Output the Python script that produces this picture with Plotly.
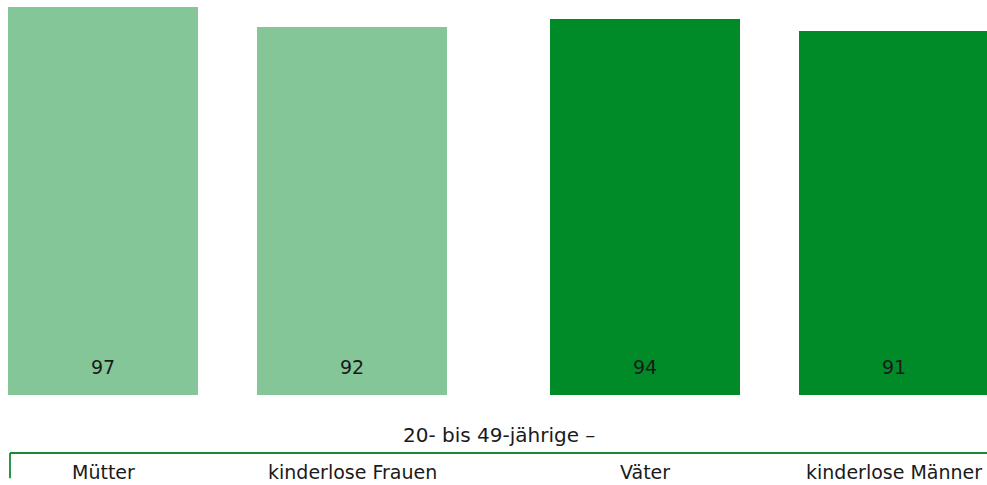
import plotly.graph_objects as go

categories = ["Mütter", "kinderlose Frauen", "Väter", "kinderlose Männer"]
values = [97, 92, 94, 91]
groups = [0, 0, 1, 1]
members = [0, 1, 0, 1]
group_title = "20- bis 49-jährige –"

light = "#84C697"
dark = "#008A28"
colors = [light if g == 0 else dark for g in groups]

step = 249
gap = 542
start = 103
xpos = [start + g * gap + m * step for g, m in zip(groups, members)]

font = dict(family="DejaVu Sans, Arial", size=19, color="#1a1a1a")

fig = go.Figure()
fig.add_trace(go.Bar(
    x=xpos, y=values, width=190, marker=dict(color=colors, line=dict(width=0)),
    hoverinfo="skip", showlegend=False,
))

annotations = []
for x, v in zip(xpos, values):
    annotations.append(dict(x=x, y=0, xref="x", yref="y", text=str(v), showarrow=False,
                            yanchor="bottom", yshift=15, font=font))
for x, c in zip(xpos, categories):
    annotations.append(dict(x=x, y=0.027, xref="x", yref="paper", text=c, showarrow=False,
                            yanchor="middle", font=font))
annotations.append(dict(x=(xpos[1] + xpos[2]) / 2, y=0.103, xref="x", yref="paper",
                        text=group_title, showarrow=False, yanchor="middle",
                        font=dict(font, size=20)))

shapes = [
    dict(type="line", xref="paper", yref="paper", x0=10 / 987, x1=1, y0=0.066, y1=0.066,
         line=dict(color="#168A35", width=1.8)),
    dict(type="line", xref="paper", yref="paper", x0=10 / 987, x1=10 / 987, y0=0.066, y1=0.014,
         line=dict(color="#168A35", width=1.8)),
]

fig.update_layout(
    width=987, height=485,
    margin=dict(l=0, r=0, t=0, b=0),
    paper_bgcolor="white", plot_bgcolor="white",
    xaxis=dict(range=[0, 987], visible=False, fixedrange=True),
    yaxis=dict(range=[0, 98.75], visible=False, domain=[90 / 485, 1], fixedrange=True),
    annotations=annotations, shapes=shapes,
    bargap=0,
)

fig.write_html("out.html")
